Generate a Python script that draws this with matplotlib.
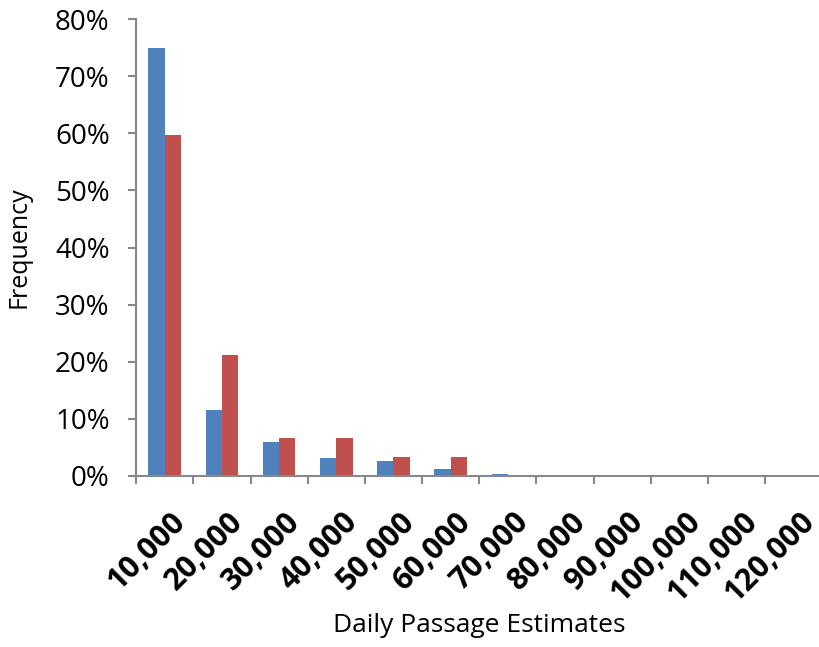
import numpy as np
import matplotlib.pyplot as plt
from matplotlib.ticker import PercentFormatter

# categories (bin upper edges) and the two series, in percent
categories = ['10,000', '20,000', '30,000', '40,000', '50,000', '60,000',
              '70,000', '80,000', '90,000', '100,000', '110,000', '120,000']
series_blue = [74.9, 11.6, 5.9, 3.1, 2.6, 1.3, 0.4, 0, 0, 0, 0, 0]
series_red = [59.7, 21.1, 6.6, 6.6, 3.3, 3.3, 0, 0, 0, 0, 0, 0]

plt.rcParams['font.family'] = ['Open Sans', 'DejaVu Sans']

fig = plt.figure(figsize=(8.2, 6.47), dpi=100)
ax = fig.add_axes([0.166, 0.2643, 0.837, 0.7063])

x = np.arange(len(categories))
w = 1 / 3.5
ax.bar(x - w / 2, series_blue, width=w, color='#4F81BD')
ax.bar(x + w / 2, series_red, width=w, color='#C0504D')

ax.set_xlim(-0.5, len(categories) - 0.5)
ax.set_ylim(0, 80)
ax.set_yticks(np.arange(0, 81, 10))
ax.yaxis.set_major_formatter(PercentFormatter(decimals=0))

# ticks sit between categories, labels under the category centres
ax.set_xticks(np.arange(-0.5, len(categories)), minor=False)
ax.set_xticklabels([])
ax.set_xticks(x + 0.1, minor=True)
ax.set_xticklabels(categories, minor=True, rotation=45, ha='right',
                   rotation_mode='anchor', fontsize=22, fontweight='bold')
ax.tick_params(axis='x', which='minor', length=0, pad=22)
ax.tick_params(axis='x', which='major', length=6, width=1.5, color='#888888')
ax.tick_params(axis='y', length=6, width=1.5, color='#888888', labelsize=20, pad=13)

for s in ['top', 'right']:
    ax.spines[s].set_visible(False)
for s in ['left', 'bottom']:
    ax.spines[s].set_color('#888888')
    ax.spines[s].set_linewidth(1.5)

ax.set_ylabel('Frequency', fontsize=18)
ax.set_xlabel('Daily Passage Estimates', fontsize=19)
ax.yaxis.set_label_coords(-0.152, 0.5)
ax.xaxis.set_label_coords(0.5, -0.300)

fig.savefig('out.png', dpi=100)
